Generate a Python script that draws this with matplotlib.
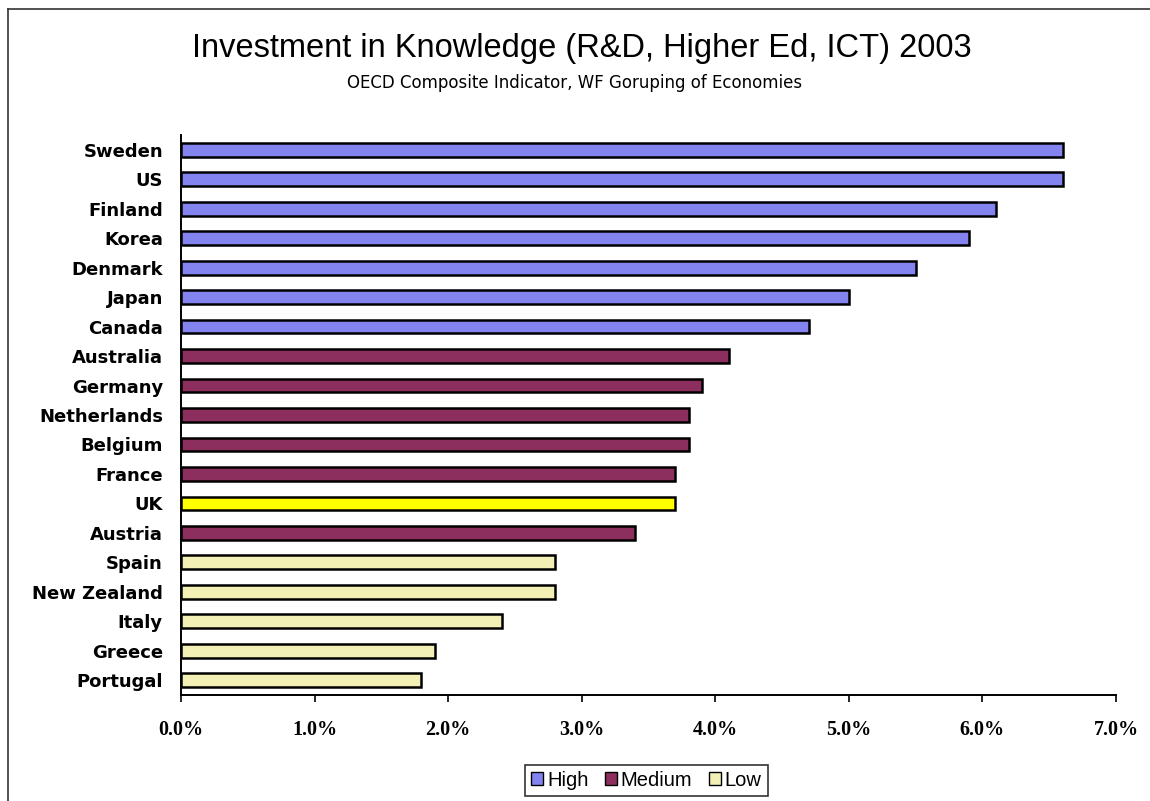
from matplotlib import pyplot as plt
from matplotlib.lines import Line2D
from matplotlib.patches import Patch
from matplotlib.ticker import FuncFormatter
import numpy as np

countries = ['Sweden', 'US', 'Finland', 'Korea', 'Denmark', 'Japan', 'Canada',
             'Australia', 'Germany', 'Netherlands', 'Belgium', 'France', 'UK',
             'Austria', 'Spain', 'New Zealand', 'Italy', 'Greece', 'Portugal']
investment = [6.6, 6.6, 6.1, 5.9, 5.5, 5.0, 4.7,
              4.1, 3.9, 3.8, 3.8, 3.7, 3.7,
              3.4, 2.8, 2.8, 2.4, 1.9, 1.8]
group = ['High'] * 7 + ['Medium'] * 7 + ['Low'] * 5
highlight = 'UK'

group_colors = {'High': '#8484f0', 'Medium': '#8c2e5e', 'Low': '#f2f0b4'}
uk_color = '#ffff00'

fig = plt.figure(figsize=(11.5, 8.01), dpi=100)
ax = fig.add_axes([0.1574, 0.1323, 0.8130, 0.6992])

y = np.arange(len(countries))
colors = [uk_color if c == highlight else group_colors[g] for c, g in zip(countries, group)]
ax.barh(y, investment, height=0.47, color=colors, edgecolor='black', linewidth=1.8)

ax.set_ylim(len(countries) - 0.5, -0.5)
ax.set_xlim(0, 7)
ax.set_xticks(np.arange(0, 8, 1))
ax.xaxis.set_major_formatter(FuncFormatter(lambda v, p: f'{v:.1f}%'))
for lbl in ax.get_xticklabels():
    lbl.set_fontfamily('Liberation Serif')
    lbl.set_fontweight('bold')
    lbl.set_fontsize(14.5)
ax.tick_params(axis='x', direction='out', length=5, width=1.2, pad=13)

ax.set_yticks(y)
ax.set_yticklabels(countries, fontfamily='DejaVu Sans', fontweight='bold', fontsize=13)
ax.tick_params(axis='y', length=0, pad=13)

for side in ['top', 'right']:
    ax.spines[side].set_visible(False)
for side in ['left', 'bottom']:
    ax.spines[side].set_linewidth(1.4)

fig.text(0.506, 0.939, 'Investment in Knowledge (R&D, Higher Ed, ICT) 2003',
         ha='center', va='center', fontsize=23.5, fontfamily='Liberation Sans',
         fontstretch='normal')
fig.text(0.50, 0.897, 'OECD Composite Indicator, WF Goruping of Economies',
         ha='center', va='center', fontsize=12, fontfamily='DejaVu Sans')

handles = [Patch(facecolor=group_colors[k], edgecolor='black', label=k)
           for k in ['High', 'Medium', 'Low']]
leg = fig.legend(handles=handles, loc='center', bbox_to_anchor=(0.562, 0.026), ncol=3,
                 frameon=True, fancybox=False, edgecolor='black',
                 handlelength=0.6, handleheight=0.6, handletextpad=0.2,
                 columnspacing=0.8, borderpad=0.3,
                 prop={'family': 'Liberation Sans', 'size': 14.5})
leg.get_frame().set_linewidth(1.2)

# outer chart border (runs off the right and bottom edges)
fig.add_artist(Line2D([8 / 1150, 1], [1 - 9 / 801] * 2, color='#333333', lw=1.2,
                      transform=fig.transFigure))
fig.add_artist(Line2D([8 / 1150] * 2, [0, 1 - 9 / 801], color='#333333', lw=1.2,
                      transform=fig.transFigure))

fig.savefig('out.png', dpi=100)
